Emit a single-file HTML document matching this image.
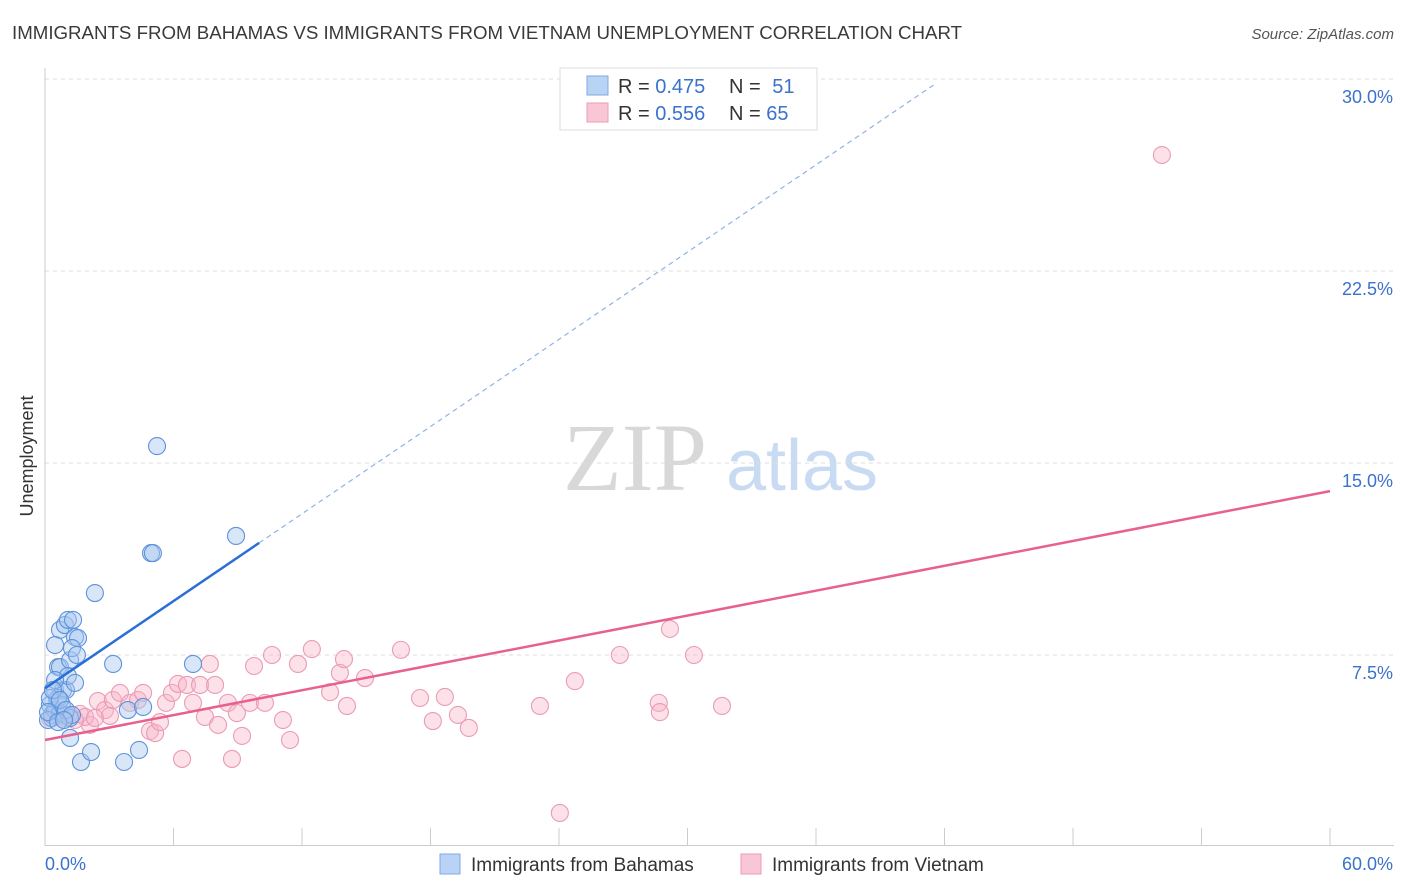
<!DOCTYPE html>
<html><head><meta charset="utf-8"><style>
body{margin:0;background:#fff;font-family:"Liberation Sans",sans-serif;}
svg{display:block}
</style></head><body>
<svg id="chart" width="1406" height="892" xmlns="http://www.w3.org/2000/svg">
<text x="12" y="39" font-size="18.7" fill="#3a3a3a">IMMIGRANTS FROM BAHAMAS VS IMMIGRANTS FROM VIETNAM UNEMPLOYMENT CORRELATION CHART</text>
<text x="1394" y="39" font-size="15" fill="#555" font-style="italic" text-anchor="end">Source: ZipAtlas.com</text>
<text x="33" y="456" font-size="18" fill="#333" transform="rotate(-90 33 456)" text-anchor="middle">Unemployment</text>
<g>
<text x="635" y="490" font-size="96" fill="#d8d8d8" font-family="Liberation Serif,serif" text-anchor="middle">ZIP</text>
<text x="802" y="490" font-size="72" fill="#c9dbf2" text-anchor="middle">atlas</text>
</g>
<g id="grid"></g>
<g id="axes"></g>
<g id="marks"></g>
<g>
<rect x="560" y="68" width="257" height="62" fill="#fff" stroke="#ddd"/>
<rect x="587" y="76" width="21" height="19" fill="#b9d3f5" stroke="#7ea8e0"/>
<rect x="587" y="103" width="21" height="19" fill="#f9c6d6" stroke="#ee9ab5"/>
<text x="618" y="93" font-size="20" fill="#333">R = <tspan fill="#3a72cc">0.475</tspan></text>
<text x="729" y="93" font-size="20" fill="#333">N = <tspan fill="#3a72cc" dx="6">51</tspan></text>
<text x="618" y="120" font-size="20" fill="#333">R = <tspan fill="#3a72cc">0.556</tspan></text>
<text x="729" y="120" font-size="20" fill="#333">N = <tspan fill="#3a72cc">65</tspan></text>
</g>
<g>
<rect x="440" y="854" width="20" height="20" fill="#b9d3f5" stroke="#7ea8e0"/>
<text x="471" y="871" font-size="19" fill="#333">Immigrants from Bahamas</text>
<rect x="741" y="854" width="20" height="20" fill="#f9c6d6" stroke="#ee9ab5"/>
<text x="772" y="871" font-size="19" fill="#333">Immigrants from Vietnam</text>
</g>
</svg>
<script>
const yTicks=[7.5,15,22.5,30];
const yTickLabels=["7.5%","15.0%","22.5%","30.0%"];
const xTickLabels=["0.0%","60.0%"];
const blueX=[0.33,0.47,0.56,0.70,0.93,1.07,1.31,1.40,1.54,0.47,0.61,0.70,1.17,1.26,1.49,0.84,0.98,0.23,0.33,0.47,0.70,0.93,1.17,0.14,0.79,1.07,1.40,2.33,3.18,1.17,1.68,2.15,3.69,4.39,3.87,4.58,5.23,4.95,5.04,6.91,8.92,0.47,0.61,0.23,0.37,0.70,0.14,0.98,1.26,0.61,0.89];
const blueY=[5.04,6.13,5.74,8.48,8.67,8.87,8.87,8.20,8.16,7.89,7.03,7.03,7.30,7.77,7.50,6.13,6.13,5.55,5.16,5.35,5.23,5.16,5.04,4.96,5.55,6.68,6.41,9.92,7.15,4.26,3.32,3.71,3.32,3.79,5.35,5.47,15.66,11.48,11.48,7.15,12.15,6.52,5.82,5.82,6.13,5.74,5.27,5.35,5.16,4.88,4.96];
const pinkX=[0.70,0.93,1.17,0.47,1.63,2.10,1.87,2.47,2.80,3.17,3.50,3.97,4.34,4.58,4.90,5.14,5.37,5.65,5.93,6.21,6.40,6.63,6.91,7.24,7.47,7.70,7.94,8.08,8.54,8.73,8.96,9.20,9.57,9.76,10.27,10.60,11.11,11.44,11.81,12.46,13.31,13.77,13.96,14.10,14.94,16.62,17.51,18.11,18.67,19.28,19.79,23.11,24.04,24.74,26.84,28.66,28.71,29.18,30.30,31.61,52.15,1.40,3.03,0.23,2.33];
const pinkY=[5.12,5.04,5.12,5.27,5.20,4.77,5.08,5.70,5.35,5.74,6.02,5.63,5.74,6.02,4.53,4.45,4.88,5.63,6.02,6.37,3.44,6.33,5.63,6.33,5.08,7.15,6.33,4.77,5.63,3.44,5.23,4.34,5.63,7.07,5.63,7.50,4.96,4.18,7.15,7.73,6.05,6.80,7.34,5.51,6.60,7.70,5.82,4.92,5.86,5.16,4.65,5.51,1.33,6.48,7.50,5.63,5.27,8.52,7.50,5.51,27.03,4.96,5.12,5.04,5.04];
const blueFit=[6.2,0.568];
const pinkFit=[4.18,0.162];
const X=v=>45+v*21.417, Y=v=>847-v*25.6;
const NS="http://www.w3.org/2000/svg";
function mk(p,t,a){const e=document.createElementNS(NS,t);for(const k in a)e.setAttribute(k,a[k]);p.appendChild(e);return e;}
const grid=document.getElementById('grid'),axes=document.getElementById('axes'),marks=document.getElementById('marks');
yTicks.forEach((t,i)=>{
 const l=mk(grid,'line',{x1:45,x2:1394,y1:Y(t),y2:Y(t),stroke:'#ddd','stroke-dasharray':'4,4'});
 
 
 const tx=mk(axes,'text',{x:1393,y:Y(t)+24,'font-size':18,fill:'#3a72cc','text-anchor':'end'});
 tx.textContent=yTickLabels[i];
 
 
});
mk(axes,'line',{x1:45,x2:45,y1:68,y2:846,stroke:'#ccc'});
mk(axes,'line',{x1:45,x2:1394,y1:845.5,y2:845.5,stroke:'#ccc'});
for(let i=0;i<=10;i++){const t=mk(axes,'line',{x1:X(i*6),x2:X(i*6),y1:828,y2:846,stroke:'#ccc'});
 
 }
const xl0=mk(axes,'text',{x:45,y:870,'font-size':18,fill:'#3a72cc'});xl0.textContent=xTickLabels[0];


const xl1=mk(axes,'text',{x:1393,y:870,'font-size':18,fill:'#3a72cc','text-anchor':'end'});xl1.textContent=xTickLabels[1];


pinkX.forEach((x,i)=>{const c=mk(marks,'circle',{cx:X(x),cy:Y(pinkY[i]),r:8.5,fill:'#f7b3c8','fill-opacity':0.4,stroke:'#eb9bb6','stroke-width':1.1});
 
 });
blueX.forEach((x,i)=>{const c=mk(marks,'circle',{cx:X(x),cy:Y(blueY[i]),r:8.5,fill:'#a8c7ef','fill-opacity':0.45,stroke:'#5d93dc','stroke-width':1.1});
 
 });
const b1=mk(marks,'line',{x1:X(0),y1:Y(blueFit[0]),x2:X(10),y2:Y(blueFit[0]+blueFit[1]*10),stroke:'#2a6fd6','stroke-width':2.5});


const b2=mk(marks,'line',{x1:X(10),y1:Y(blueFit[0]+blueFit[1]*10),x2:X(41.6),y2:Y(blueFit[0]+blueFit[1]*41.6),stroke:'#8fb2e6','stroke-width':1.2,'stroke-dasharray':'5,4'});


const p1=mk(marks,'line',{x1:X(0),y1:Y(pinkFit[0]),x2:X(60),y2:Y(pinkFit[0]+pinkFit[1]*60),stroke:'#e8608d','stroke-width':2.5});


</script>
</body></html>
